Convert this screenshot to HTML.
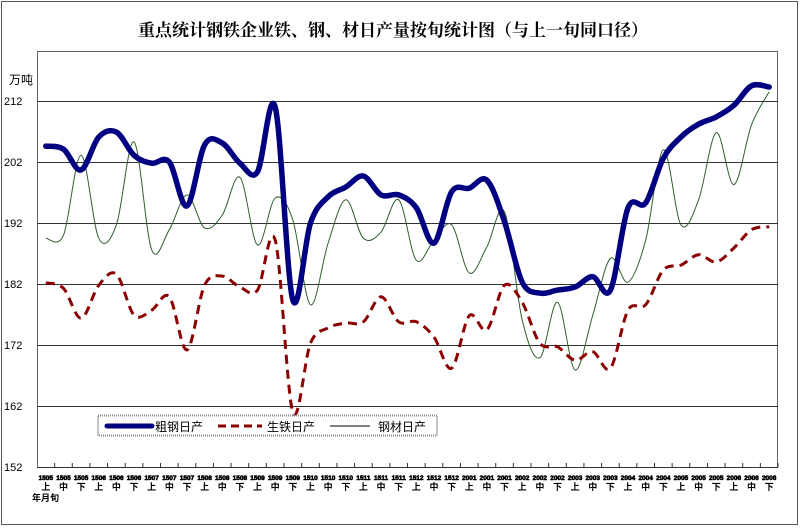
<!DOCTYPE html>
<html><head><meta charset="utf-8"><style>
html,body{margin:0;padding:0;background:#fff}
svg{display:block}
text{font-family:"Liberation Sans","Noto Sans CJK SC",sans-serif}
</style></head><body>
<svg id="s" width="800" height="528" xmlns="http://www.w3.org/2000/svg">
<rect x="1.5" y="1.5" width="796" height="523" fill="#fff" stroke="#555" stroke-width="1"/>
<text x="393" y="36" text-anchor="middle" font-size="17" font-weight="bold" style="font-family:'Noto Serif CJK SC','Noto Sans CJK SC',serif">重点统计钢铁企业铁、钢、材日产量按旬统计图（与上一旬同口径）</text>
<rect x="37.5" y="51.5" width="740" height="416" fill="#fff" stroke="#666" stroke-width="1"/>
<g stroke="#333" stroke-width="1">
<line x1="37" y1="101.5" x2="778" y2="101.5"/>
<line x1="37" y1="162.5" x2="778" y2="162.5"/>
<line x1="37" y1="223.5" x2="778" y2="223.5"/>
<line x1="37" y1="284.5" x2="778" y2="284.5"/>
<line x1="37" y1="345.5" x2="778" y2="345.5"/>
<line x1="37" y1="406.5" x2="778" y2="406.5"/>
<line x1="37" y1="467.5" x2="778" y2="467.5"/>
</g>
<g font-size="11" fill="#000">
<text x="9" y="84" font-size="12">万吨</text>
<text x="4" y="105">212</text><text x="4" y="166">202</text><text x="4" y="227">192</text>
<text x="4" y="288">182</text><text x="4" y="349">172</text><text x="4" y="410">162</text><text x="4" y="471">152</text>
</g>
<g id="ticks"></g>
<g id="lines"></g>
<rect x="98" y="415.5" width="339" height="20" fill="#fff" stroke="#888" stroke-width="2" stroke-dasharray="1,1"/>
<line x1="107" y1="426" x2="152" y2="426" stroke="#000080" stroke-width="5" stroke-linecap="round"/>
<text x="155" y="431" font-size="12">粗钢日产</text>
<line x1="218" y1="426" x2="262" y2="426" stroke="#8b0000" stroke-width="3" stroke-dasharray="8,5"/>
<text x="267" y="431" font-size="12">生铁日产</text>
<line x1="330" y1="426" x2="370" y2="426" stroke="#000" stroke-width="1"/>
<text x="378" y="431" font-size="12">钢材日产</text>
<text x="32" y="501" font-size="9" font-weight="bold">年月旬</text>
</svg>
<script>
var blue=[204.6,204.1,200.7,206.1,206.9,203.1,201.8,202,194.8,204.8,205.1,201.8,200.4,211,179.4,192,196.3,197.9,199.7,196.6,196.6,194.5,188.7,197.1,197.7,199,192.2,182.3,180.5,181,181.5,183.2,181,194.5,195.3,202.6,206.1,208.2,209.4,211.3,214.5,214.3];
var red=[182.2,181.3,176.4,181.8,183.6,176.9,177.7,179.9,171.2,181.8,183.3,181.5,181,189.2,161,172.3,174.8,175.6,175.8,179.9,175.8,175.8,173.3,168.2,176.8,174.5,181.8,179,172.3,171.7,169.5,170.9,168.2,177.7,178.6,184.3,185.1,186.8,185.6,187.9,190.9,191.4];
var green=[189.5,190,203.1,189.5,191.7,205.3,187.6,190.9,196.6,191.2,193.3,199.5,188.4,196.1,192.5,178.6,188.7,195.8,189.5,190.5,195.8,185.9,189.2,191.7,183.8,188.1,193.8,176.1,169.9,179,167.9,176.9,186.2,182.3,189.2,204,191.7,195.8,206.8,198.3,208.1,213.5];
var W=741/42;function X(i){return 37+W*(i+0.5)}function Y(v){return 101+(212-v)*6.1}
function path(d){var p=d.map(function(v,i){return[X(i),Y(v)]});var s="M"+p[0][0].toFixed(1)+","+p[0][1].toFixed(1);
for(var i=0;i<p.length-1;i++){var a=p[Math.max(i-1,0)],b=p[i],c=p[i+1],e=p[Math.min(i+2,p.length-1)];
s+="C"+(b[0]+(c[0]-a[0])/6).toFixed(1)+","+(b[1]+(c[1]-a[1])/6).toFixed(1)+" "+(c[0]-(e[0]-b[0])/6).toFixed(1)+","+(c[1]-(e[1]-b[1])/6).toFixed(1)+" "+c[0].toFixed(1)+","+c[1].toFixed(1);}return s}
var NS="http://www.w3.org/2000/svg";var L=document.getElementById("lines");
function add(d,st){var e=document.createElementNS(NS,"path");e.setAttribute("d",path(d));e.setAttribute("fill","none");for(var k in st)e.setAttribute(k,st[k]);L.appendChild(e)}
add(green,{stroke:"#2e5e2e","stroke-width":"1"});
add(red,{stroke:"#8b0000","stroke-width":"3","stroke-dasharray":"9,6"});
add(blue,{stroke:"#000080","stroke-width":"5.5","stroke-linecap":"round"});
var T=document.getElementById("ticks");var months=["1505","1506","1507","1508","1509","1510","1511","1512","2001","2002","2003","2004","2005","2006"];var xun=["上","中","下"];
for(var i=0;i<42;i++){var x=37+W*(i+1);var l=document.createElementNS(NS,"line");l.setAttribute("x1",x);l.setAttribute("x2",x);l.setAttribute("y1",463);l.setAttribute("y2",467);l.setAttribute("stroke","#333");T.appendChild(l);
var t=document.createElementNS(NS,"text");t.setAttribute("x",X(i));t.setAttribute("y",480);t.setAttribute("font-size","6.5");t.setAttribute("font-weight","bold");t.setAttribute("text-anchor","middle");t.setAttribute("stroke","#000");t.setAttribute("stroke-width","0.6");t.textContent=months[Math.floor(i/3)];T.appendChild(t);
var u=document.createElementNS(NS,"text");u.setAttribute("x",X(i));u.setAttribute("y",490);u.setAttribute("font-size","9");u.setAttribute("font-weight","bold");u.setAttribute("text-anchor","middle");u.textContent=xun[i%3];T.appendChild(u);}
</script>
</body></html>
